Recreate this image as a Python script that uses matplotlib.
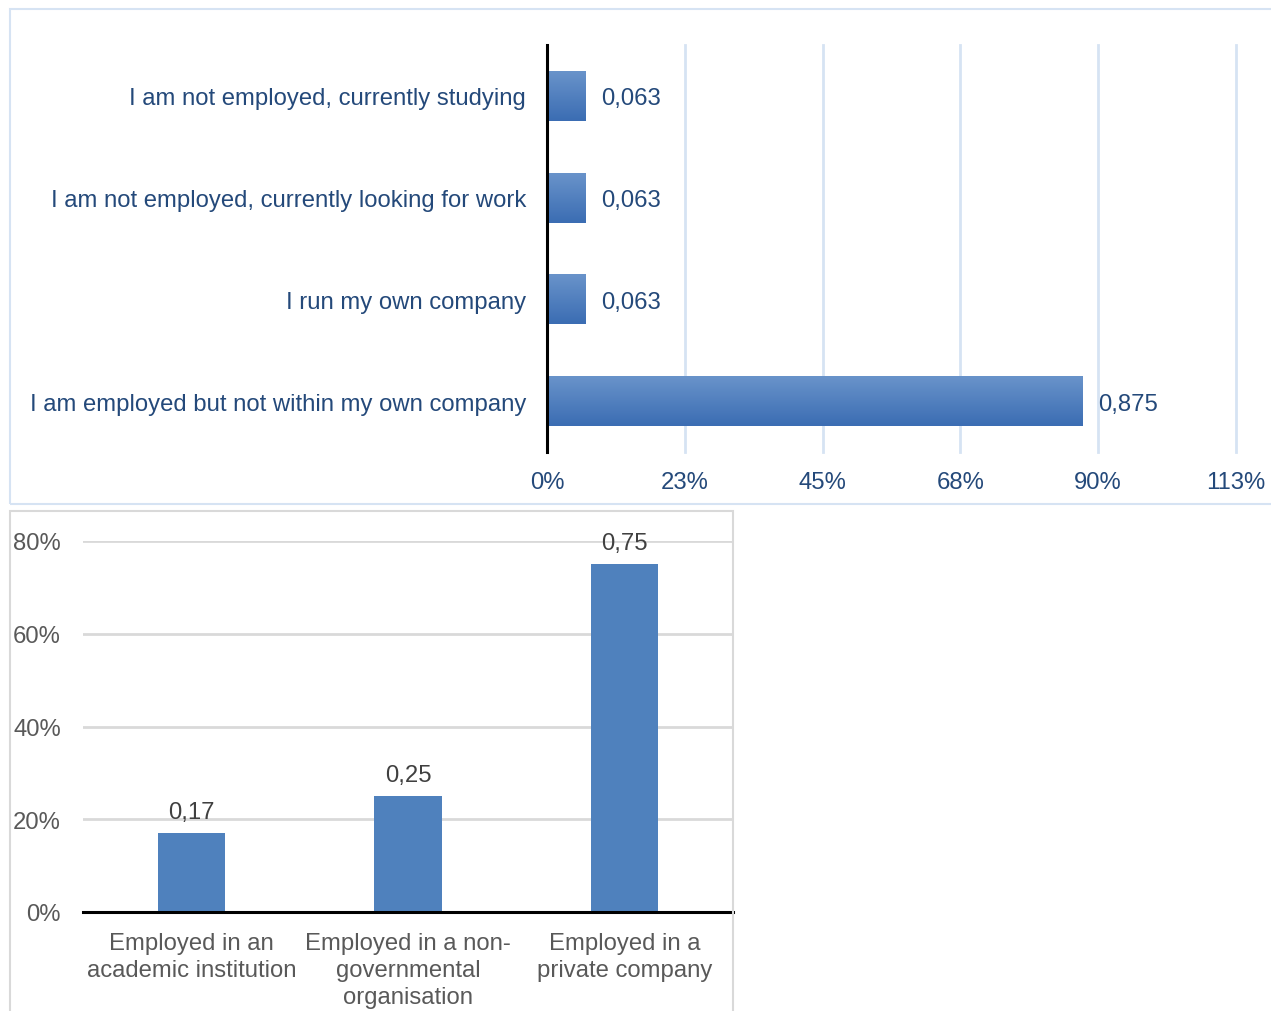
import matplotlib
matplotlib.use("Agg")
import matplotlib.pyplot as plt
import numpy as np
from matplotlib.patches import Rectangle
from matplotlib.ticker import FixedLocator

plt.rcParams['font.family'] = ['Liberation Sans', 'DejaVu Sans']

# employment status
status = ['I am not employed, currently studying',
          'I am not employed, currently looking for work',
          'I run my own company',
          'I am employed but not within my own company']
status_share = [0.063, 0.063, 0.063, 0.875]
status_ticks = [0, 0.225, 0.45, 0.675, 0.9, 1.125]
status_tick_labels = ['0%', '23%', '45%', '68%', '90%', '113%']

# type of employer
employer = ['Employed in an\nacademic institution',
            'Employed in a non-\ngovernmental\norganisation',
            'Employed in a\nprivate company']
employer_share = [0.17, 0.25, 0.75]
employer_ticks = [0, 0.2, 0.4, 0.6, 0.8]
employer_tick_labels = ['0%', '20%', '40%', '60%', '80%']

W, H = 1271, 1012
FS = 17.2
fig = plt.figure(figsize=(W / 100, H / 100), dpi=100)

def fx(px):
    return px / W

def fy(py):
    return 1 - py / H

# chart frames
fig.patches.append(Rectangle((fx(10), fy(505)), 1.1, fy(10) - fy(505),
                             transform=fig.transFigure, fill=False,
                             edgecolor='#d6e3f3', linewidth=1.5))
fig.patches.append(Rectangle((fx(10), -0.05), fx(733) - fx(10), fy(512) + 0.05,
                             transform=fig.transFigure, fill=False,
                             edgecolor='#d9d9d9', linewidth=1.5))

blue_txt = '#24497a'

# ---- top chart ----
ax1 = fig.add_axes([fx(547), fy(453), fx(1236) - fx(547), fy(46) - fy(453)])
ypos = np.arange(len(status))
bars = ax1.barh(ypos, status_share, height=0.49, color='#4f7fbf', zorder=3)
grad = np.linspace(0, 1, 64).reshape(-1, 1)
cmap = matplotlib.colors.LinearSegmentedColormap.from_list('g', ['#6993ca', '#3b6db3'])
for b in bars:
    x0, y0 = b.get_x(), b.get_y()
    im = ax1.imshow(grad, cmap=cmap, aspect='auto', zorder=3,
                    extent=[x0, x0 + b.get_width(), y0 + b.get_height(), y0])
    im.set_clip_path(b)
ax1.set_xlim(0, 1.125)
ax1.set_ylim(3.5, -0.5)
ax1.xaxis.set_major_locator(FixedLocator(status_ticks))
ax1.set_xticklabels(status_tick_labels)
ax1.set_yticks(ypos)
ax1.set_yticklabels(status)
ax1.tick_params(axis='x', length=0, pad=14, labelsize=FS, labelcolor=blue_txt)
ax1.tick_params(axis='y', length=0, pad=15, labelsize=FS, labelcolor=blue_txt)
ax1.grid(axis='x', color='#d6e3f3', linewidth=2, zorder=0)
for gl in ax1.get_xgridlines():
    gl.set_clip_on(False)
for s in ['top', 'right', 'bottom']:
    ax1.spines[s].set_visible(False)
ax1.spines['left'].set_linewidth(2.2)
ax1.spines['left'].set_zorder(4)
for y, v in zip(ypos, status_share):
    ax1.annotate(f'{v:.3f}'.replace('.', ','), (v, y), xytext=(11, 0),
                 textcoords='offset points', va='center_baseline', ha='left',
                 fontsize=FS, color=blue_txt)

# ---- bottom chart ----
ax2 = fig.add_axes([fx(83), fy(913), fx(733) - fx(83), fy(542) - fy(913)])
xpos = np.arange(len(employer))
ax2.bar(xpos, employer_share, width=0.31, color='#4f81bd', zorder=3)
ax2.set_xlim(-0.5, 2.5)
ax2.set_ylim(0, 0.8)
ax2.set_yticks(employer_ticks)
ax2.set_yticklabels(employer_tick_labels)
ax2.set_xticks(xpos)
ax2.set_xticklabels(employer, linespacing=1.3)
ax2.tick_params(axis='x', length=0, pad=14.5, labelsize=FS, labelcolor='#595959')
ax2.tick_params(axis='y', length=0, pad=16, labelsize=FS, labelcolor='#595959')
ax2.grid(axis='y', color='#d9d9d9', linewidth=2, zorder=0)
for s in ['top', 'right', 'left']:
    ax2.spines[s].set_visible(False)
ax2.spines['bottom'].set_linewidth(2.2)
ax2.spines['bottom'].set_zorder(4)
for x, v in zip(xpos, employer_share):
    ax2.annotate(f'{v:.2f}'.replace('.', ','), (x, v), xytext=(0, 11),
                 textcoords='offset points', va='baseline', ha='center',
                 fontsize=FS, color='#404040', zorder=5)

fig.savefig('out.png', dpi=100)
